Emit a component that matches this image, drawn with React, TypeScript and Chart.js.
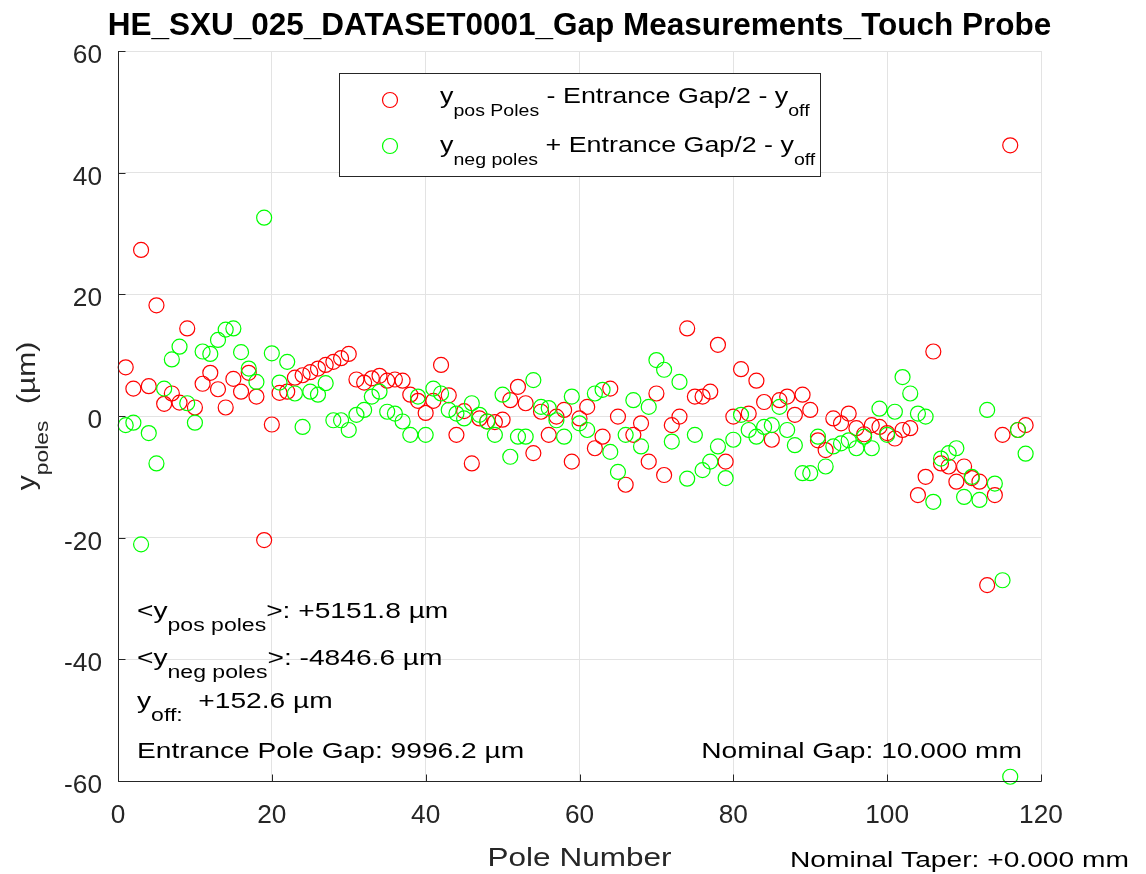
import React, { useEffect, useRef } from "react";
import { Chart, registerables } from "chart.js";

Chart.register(...registerables);

// ---------------- data ----------------
const TITLE = "HE_SXU_025_DATASET0001_Gap Measurements_Touch Probe";
const X_LABEL = "Pole Number";
const poleNumbers = Array.from({ length: 118 }, (_, i) => i + 1);

// y_pos poles - Entrance Gap/2 - y_off  (µm)
const posPoles = [
  8.0, 4.5, 27.3, 4.9, 18.2, 2.0, 3.7, 2.2, 14.4, 1.4,
  5.3, 7.1, 4.4, 1.4, 6.1, 4.0, 7.1, 3.2, -20.4, -1.4,
  3.8, 4.0, 6.3, 6.7, 7.2, 7.8, 8.4, 8.9, 9.5, 10.2,
  6.0, 5.5, 6.2, 6.6, 5.8, 6.0, 5.8, 3.5, 2.5, 0.5,
  2.5, 8.4, 3.4, -3.1, 0.8, -7.8, -0.4, -0.9, -1.0, -0.6,
  2.6, 4.8, 2.1, -6.1, 0.7, -3.1, -0.1, 1.0, -7.5, -0.4,
  1.5, -5.3, -3.4, 4.5, -0.1, -11.3, -3.1, -1.2, -7.5, 3.7,
  -9.7, -1.5, -0.1, 14.4, 3.2, 3.2, 4.0, 11.7, -7.5, -0.1,
  7.7, 0.4, 5.8, 2.3, -3.9, 2.6, 3.2, 0.2, 3.5, 1.0,
  -4.0, -5.6, -0.4, -1.2, 0.4, -2.0, -3.0, -1.5, -1.8, -2.8,
  -3.7, -2.3, -2.0, -13.0, -10.0, 10.6, -7.8, -8.3, -10.8, -8.3,
  -10.2, -10.8, -27.8, -13.0, -3.1, 44.5, -2.3, -1.5,
];

// y_neg poles + Entrance Gap/2 - y_off  (µm)
const negPoles = [
  -1.5, -1.1, -21.1, -2.8, -7.8, 4.5, 9.3, 11.4, 2.1, -1.1,
  10.6, 10.2, 12.5, 14.2, 14.4, 10.5, 7.8, 5.6, 32.6, 10.3,
  5.5, 8.9, 3.7, -1.8, 4.0, 3.5, 5.4, -0.7, -0.7, -2.3,
  0.2, 1.0, 3.2, 4.0, 0.7, 0.4, -0.9, -3.1, 3.2, -3.1,
  4.5, 3.7, 1.0, 0.4, -0.4, 2.1, 0.2, -0.9, -3.1, 3.5,
  -6.7, -3.4, -3.4, 5.9, 1.5, 1.3, -0.7, -3.4, 3.2, -1.2,
  -2.3, 3.7, 4.3, -5.9, -9.2, -3.1, 2.6, -5.0, 1.5, 9.2,
  7.6, -4.2, 5.6, -10.3, -3.1, -8.9, -7.5, -5.0, -10.2, -3.9,
  0.2, -2.3, -3.4, -1.8, -1.5, 1.5, -2.3, -4.8, -9.4, -9.4,
  -3.4, -8.3, -5.0, -4.5, -4.0, -5.3, -3.4, -5.3, 1.2, -3.1,
  0.7, 6.4, 3.7, 0.4, -0.1, -14.1, -7.0, -6.1, -5.3, -13.3,
  -10.0, -13.8, 1.0, -11.1, -27.0, -59.3, -2.3, -6.2,
];

const xTicks = [0, 20, 40, 60, 80, 100, 120];
const yTicks = [-60, -40, -20, 0, 20, 40, 60];

const STAT_POS = "+5151.8 µm";
const STAT_NEG = "-4846.6 µm";
const STAT_OFF = "+152.6 µm";
const ENTRANCE_GAP = "Entrance Pole Gap: 9996.2 µm";
const NOMINAL_GAP = "Nominal Gap: 10.000 mm";
const NOMINAL_TAPER = "Nominal Taper: +0.000 mm";

// ---------------- drawing helpers ----------------
const FONT = '"Liberation Sans", Arial, Helvetica, sans-serif';
type Seg = { t: string; sub?: boolean };
type TOpts = {
  size: number;
  subSize?: number;
  subDy?: number;
  sx?: number;
  align?: "left" | "right" | "center";
  color?: string;
  bold?: boolean;
};

function fontStr(size: number, bold?: boolean) {
  return `${bold ? "bold " : ""}${size}px ${FONT}`;
}

function drawSegs(ctx: CanvasRenderingContext2D, segs: Seg[], x: number, y: number, o: TOpts) {
  const size = o.size;
  const subSize = o.subSize ?? size * 0.8;
  const subDy = o.subDy ?? size * 0.55;
  const sx = o.sx ?? 1;
  let total = 0;
  for (const s of segs) {
    ctx.font = fontStr(s.sub ? subSize : size, o.bold);
    total += ctx.measureText(s.t).width * sx;
  }
  let cx = o.align === "right" ? x - total : o.align === "center" ? x - total / 2 : x;
  for (const s of segs) {
    ctx.font = fontStr(s.sub ? subSize : size, o.bold);
    const w = ctx.measureText(s.t).width;
    ctx.save();
    ctx.translate(cx, y + (s.sub ? subDy : 0));
    ctx.scale(sx, 1);
    ctx.fillStyle = o.color ?? "#000000";
    ctx.textAlign = "left";
    ctx.textBaseline = "alphabetic";
    ctx.fillText(s.t, 0, 0);
    ctx.restore();
    cx += w * sx;
  }
}

const overlayPlugin = {
  id: "matlabOverlay",
  afterDraw(chart: any) {
    const ctx: CanvasRenderingContext2D = chart.ctx;
    const xs = chart.scales.x;
    const ys = chart.scales.y;
    const area = chart.chartArea;
    const axisColor = "#262626";

    ctx.save();
    // axes lines
    ctx.strokeStyle = axisColor;
    ctx.lineWidth = 1;
    const ax = Math.round(area.left) + 0.5;
    const ay = Math.round(area.bottom) + 0.5;
    ctx.beginPath();
    ctx.moveTo(ax, area.top);
    ctx.lineTo(ax, ay);
    ctx.lineTo(area.right + 0.5, ay);
    ctx.stroke();
    // inward ticks
    ctx.beginPath();
    for (const v of yTicks) {
      const py = Math.round(ys.getPixelForValue(v)) + 0.5;
      ctx.moveTo(ax, py);
      ctx.lineTo(ax + 7, py);
    }
    for (const v of xTicks) {
      const px = Math.round(xs.getPixelForValue(v)) + 0.5;
      ctx.moveTo(px, ay);
      ctx.lineTo(px, ay - 7);
    }
    ctx.stroke();

    // tick labels
    for (const v of yTicks) {
      const py = ys.getPixelForValue(v);
      drawSegs(ctx, [{ t: String(v) }], area.left - 16, py + 12, {
        size: 25, sx: 1.05, align: "right", color: axisColor,
      });
    }
    for (const v of xTicks) {
      const px = xs.getPixelForValue(v);
      drawSegs(ctx, [{ t: String(v) }], px, 823, {
        size: 25, sx: 1.05, align: "center", color: axisColor,
      });
    }

    // title
    drawSegs(ctx, [{ t: TITLE }], (area.left + area.right) / 2, 35, {
      size: 31.5, bold: true, align: "center", color: "#000000",
    });

    // x label
    drawSegs(ctx, [{ t: X_LABEL }], (area.left + area.right) / 2, 866, {
      size: 25, sx: 1.26, align: "center", color: axisColor,
    });

    // y label (rotated)
    ctx.save();
    ctx.translate(35, (area.top + area.bottom) / 2);
    ctx.rotate(-Math.PI / 2);
    drawSegs(ctx, [{ t: "y" }, { t: "poles", sub: true }, { t: "  (µm)" }], 0, 0, {
      size: 25, subSize: 19, subDy: 13, sx: 1.2, align: "center", color: axisColor,
    });
    ctx.restore();

    // nominal taper (below axes, right)
    drawSegs(ctx, [{ t: NOMINAL_TAPER }], 790, 867, {
      size: 22, sx: 1.28, color: "#000000",
    });

    // annotations inside axes
    const ann = { size: 22, subSize: 18, subDy: 13, sx: 1.28, color: "#000000" };
    drawSegs(ctx, [{ t: "<y" }, { t: "pos poles", sub: true }, { t: ">: " + STAT_POS }], 137, 618, ann);
    drawSegs(ctx, [{ t: "<y" }, { t: "neg poles", sub: true }, { t: ">: " + STAT_NEG }], 137, 665, ann);
    drawSegs(ctx, [{ t: "y" }, { t: "off:", sub: true }, { t: "  " + STAT_OFF }], 137, 708, ann);
    drawSegs(ctx, [{ t: ENTRANCE_GAP }], 137, 758, ann);
    drawSegs(ctx, [{ t: NOMINAL_GAP }], 1022, 758, { ...ann, align: "right" });

    // legend
    ctx.fillStyle = "#ffffff";
    ctx.fillRect(339.5, 73.5, 481, 103);
    ctx.strokeStyle = axisColor;
    ctx.lineWidth = 1;
    ctx.strokeRect(339.5, 73.5, 481, 103);
    const leg = { size: 22, subSize: 16, subDy: 13, sx: 1.22, color: "#000000" };
    const ds = chart.data.datasets;
    const rows = [
      { y: 100, base: 103, color: ds[0].borderColor, segs: [{ t: "y" }, { t: "pos Poles", sub: true }, { t: " - Entrance Gap/2 - y" }, { t: "off", sub: true }] },
      { y: 146, base: 152, color: ds[1].borderColor, segs: [{ t: "y" }, { t: "neg poles", sub: true }, { t: " + Entrance Gap/2 - y" }, { t: "off", sub: true }] },
    ];
    for (const r of rows) {
      ctx.beginPath();
      ctx.strokeStyle = r.color;
      ctx.lineWidth = 1.2;
      ctx.arc(390, r.y, 7.5, 0, Math.PI * 2);
      ctx.stroke();
      drawSegs(ctx, r.segs, 440, r.base, leg);
    }
    ctx.restore();
  },
};

export default function App() {
  const ref = useRef<HTMLCanvasElement | null>(null);
  useEffect(() => {
    if (!ref.current) return;
    const chart = new Chart(ref.current, {
      type: "scatter",
      data: {
        datasets: [
          {
            label: "pos",
            data: poleNumbers.map((p, i) => ({ x: p, y: posPoles[i] })),
            borderColor: "#ff0000",
            backgroundColor: "rgba(0,0,0,0)",
            pointBorderColor: "#ff0000",
            pointBackgroundColor: "rgba(0,0,0,0)",
            pointRadius: 7.5,
            pointBorderWidth: 1.2,
            pointStyle: "circle",
            showLine: false,
            clip: false as any,
            order: 1,
          },
          {
            label: "neg",
            data: poleNumbers.map((p, i) => ({ x: p, y: negPoles[i] })),
            borderColor: "#00ff00",
            backgroundColor: "rgba(0,0,0,0)",
            pointBorderColor: "#00ff00",
            pointBackgroundColor: "rgba(0,0,0,0)",
            pointRadius: 7.5,
            pointBorderWidth: 1.2,
            pointStyle: "circle",
            showLine: false,
            clip: false as any,
            order: 0,
          },
        ],
      },
      options: {
        responsive: false,
        maintainAspectRatio: false,
        devicePixelRatio: 1,
        animation: false,
        layout: { padding: { left: 0, top: 51, right: 105, bottom: 0 } },
        plugins: {
          legend: { display: false },
          tooltip: { enabled: false },
          title: { display: false },
        },
        scales: {
          x: {
            type: "linear",
            min: 0,
            max: 120,
            afterFit: (s: any) => { s.height = 93; },
            afterBuildTicks: (s: any) => { s.ticks = xTicks.map((v) => ({ value: v })); },
            ticks: { display: false },
            grid: { color: "#e3e3e3", lineWidth: 1, drawTicks: false },
            border: { display: false },
          },
          y: {
            type: "linear",
            min: -60,
            max: 60,
            afterFit: (s: any) => { s.width = 118; },
            afterBuildTicks: (s: any) => { s.ticks = yTicks.map((v) => ({ value: v })); },
            ticks: { display: false },
            grid: { color: "#e3e3e3", lineWidth: 1, drawTicks: false },
            border: { display: false },
          },
        },
      },
      plugins: [overlayPlugin],
    } as any);
    return () => chart.destroy();
  }, []);

  return (
    <div style={{ position: "absolute", left: 0, top: 0, width: 1146, height: 874, background: "#ffffff" }}>
      <canvas ref={ref} width={1146} height={874} style={{ display: "block" }} />
    </div>
  );
}
